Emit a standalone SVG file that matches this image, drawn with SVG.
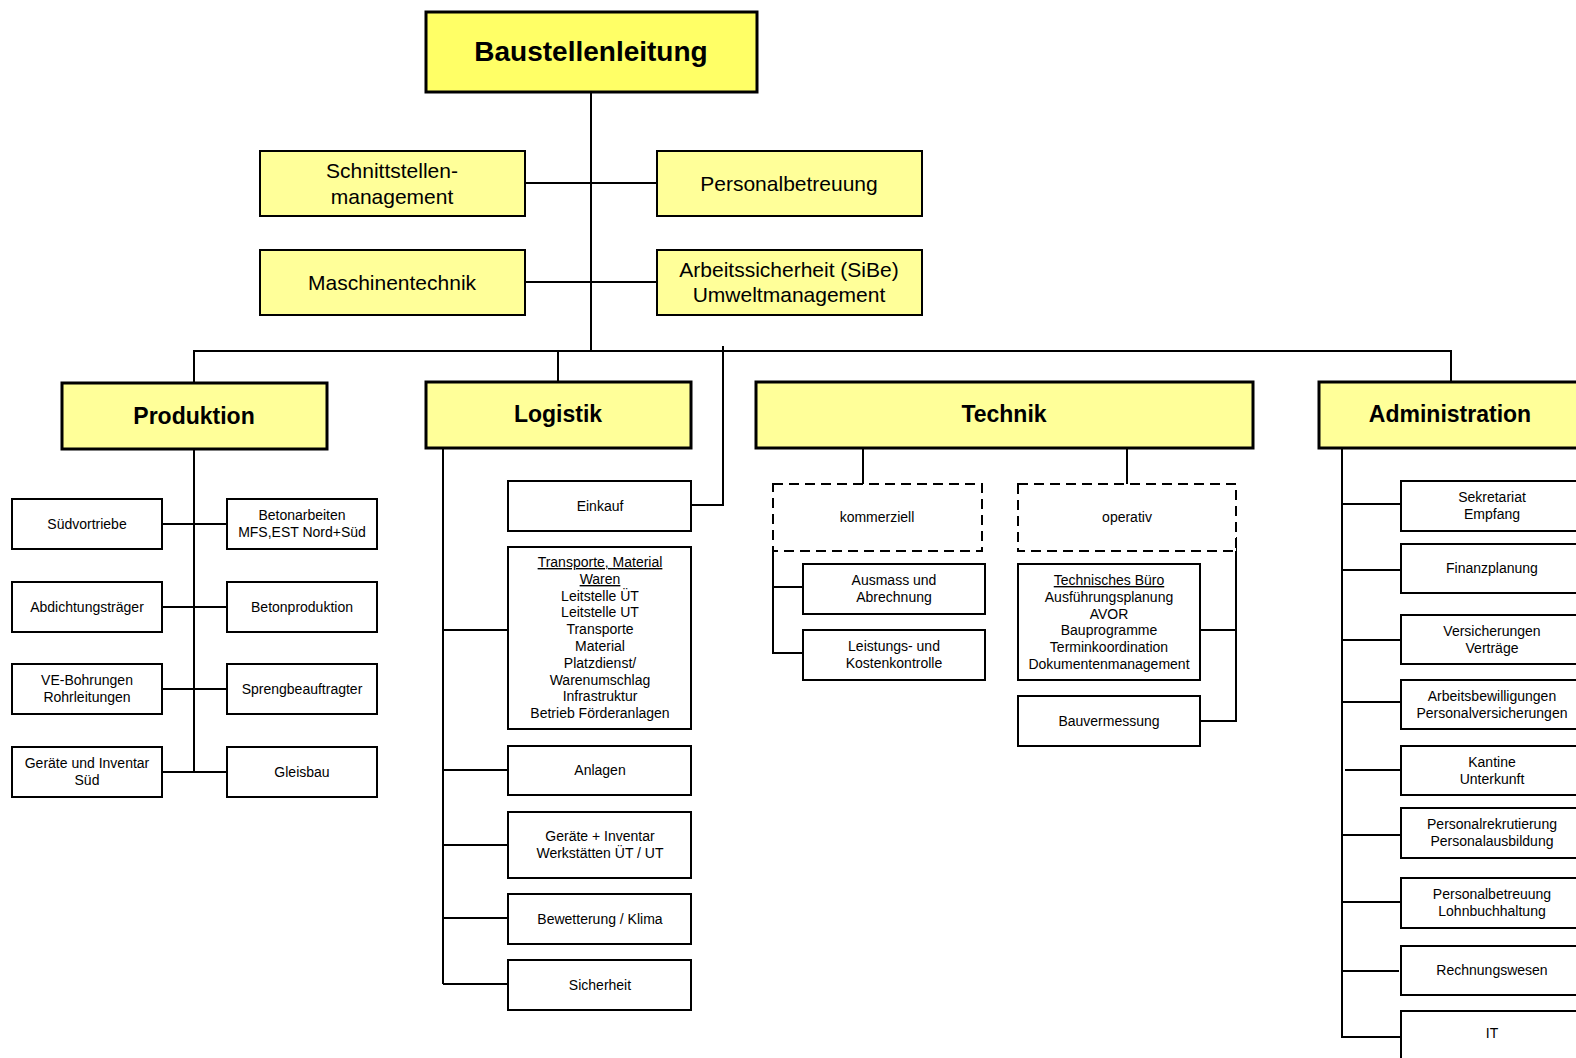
<svg xmlns="http://www.w3.org/2000/svg" width="1576" height="1058" viewBox="0 0 1576 1058">
<style>
text{font-family:"Liberation Sans",Arial,sans-serif;fill:#000;text-anchor:middle}
.t{font-size:14px}
.m{font-size:21px}
.h{font-size:23px;font-weight:bold}
.top{font-size:28px;font-weight:bold}
.major{fill:#FFFF99;stroke:#000;stroke-width:3}
.root{fill:#FFFF66;stroke:#000;stroke-width:3}
.sec{fill:#FFFF99;stroke:#000;stroke-width:2}
.box{fill:#fff;stroke:#000;stroke-width:2}
.dash{fill:#fff;stroke:#000;stroke-width:2;stroke-dasharray:10 6}
.ln{fill:none;stroke:#000;stroke-width:2}
</style>
<rect width="1576" height="1058" fill="#fff"/>
<g id="connectors" class="ln">
<path d="M591,92V351"/>
<path d="M525,183H657M525,282H657"/>
<path d="M194,383V351H1451V382"/>
<path d="M558,351V382"/>
<path d="M723,346V505H691"/>
<path d="M194,449V772M162,524H227M162,607H227M162,689H227M162,772H227"/>
<path d="M443,448V984M443,630H508M443,770H508M443,845H508M443,918H508M443,984H508"/>
<path d="M863,449V484M1127,449V484"/>
<path d="M773,549V653H803M773,587H803"/>
<path d="M1236,537V721H1200M1236,630H1200"/>
<path d="M1342,448V1037H1401M1342,504H1401M1342,570H1401M1342,640H1401M1342,702H1401M1345,770H1401M1342,835H1401M1342,902H1401M1342,971H1399"/>
</g>
<g id="n-baustellenleitung"><rect class="root" x="426" y="12" width="331" height="80"/><text class="top" x="591" y="61">Baustellenleitung</text></g>
<g id="n-schnittstellen"><rect class="sec" x="260" y="151" width="265" height="65"/><text class="m" x="392" y="177.5">Schnittstellen-</text><text class="m" x="392" y="203.5">management</text></g>
<g id="n-personalbetreuung-top"><rect class="sec" x="657" y="151" width="265" height="65"/><text class="m" x="789" y="190.5">Personalbetreuung</text></g>
<g id="n-maschinentechnik"><rect class="sec" x="260" y="250" width="265" height="65"/><text class="m" x="392" y="289.5">Maschinentechnik</text></g>
<g id="n-arbeitssicherheit"><rect class="sec" x="657" y="250" width="265" height="65"/><text class="m" x="789" y="276.5">Arbeitssicherheit (SiBe)</text><text class="m" x="789" y="301.5">Umweltmanagement</text></g>
<g id="n-produktion"><rect class="major" x="62" y="383" width="265" height="66"/><text class="h" x="194" y="424">Produktion</text></g>
<g id="n-logistik"><rect class="major" x="426" y="382" width="265" height="66"/><text class="h" x="558" y="422">Logistik</text></g>
<g id="n-technik"><rect class="major" x="756" y="382" width="497" height="66"/><text class="h" x="1004" y="422">Technik</text></g>
<g id="n-administration"><rect class="major" x="1319" y="382" width="270" height="66"/><text class="h" x="1450" y="422">Administration</text></g>
<g id="n-suedvortriebe"><rect class="box" x="12" y="499" width="150" height="50"/><text class="t" x="87" y="529">Südvortriebe</text></g>
<g id="n-betonarbeiten"><rect class="box" x="227" y="499" width="150" height="50"/><text class="t" x="302" y="520">Betonarbeiten</text><text class="t" x="302" y="537">MFS,EST Nord+Süd</text></g>
<g id="n-abdichtung"><rect class="box" x="12" y="582" width="150" height="50"/><text class="t" x="87" y="612">Abdichtungsträger</text></g>
<g id="n-betonproduktion"><rect class="box" x="227" y="582" width="150" height="50"/><text class="t" x="302" y="612">Betonproduktion</text></g>
<g id="n-ve-bohrungen"><rect class="box" x="12" y="664" width="150" height="50"/><text class="t" x="87" y="685">VE-Bohrungen</text><text class="t" x="87" y="702">Rohrleitungen</text></g>
<g id="n-spreng"><rect class="box" x="227" y="664" width="150" height="50"/><text class="t" x="302" y="694">Sprengbeauftragter</text></g>
<g id="n-geraete-sued"><rect class="box" x="12" y="747" width="150" height="50"/><text class="t" x="87" y="768">Geräte und Inventar</text><text class="t" x="87" y="785">Süd</text></g>
<g id="n-gleisbau"><rect class="box" x="227" y="747" width="150" height="50"/><text class="t" x="302" y="777">Gleisbau</text></g>
<g id="n-einkauf"><rect class="box" x="508" y="481" width="183" height="50"/><text class="t" x="600" y="511">Einkauf</text></g>
<g id="n-transporte"><rect class="box" x="508" y="547" width="183" height="182"/>
<text class="t" x="600" y="567"><tspan text-decoration="underline">Transporte, Material</tspan></text>
<text class="t" x="600" y="584"><tspan text-decoration="underline">Waren</tspan></text>
<text class="t" x="600" y="601">Leitstelle ÜT</text>
<text class="t" x="600" y="617">Leitstelle UT</text>
<text class="t" x="600" y="634">Transporte</text>
<text class="t" x="600" y="651">Material</text>
<text class="t" x="600" y="668">Platzdienst/</text>
<text class="t" x="600" y="685">Warenumschlag</text>
<text class="t" x="600" y="701">Infrastruktur</text>
<text class="t" x="600" y="718">Betrieb Förderanlagen</text></g>
<g id="n-anlagen"><rect class="box" x="508" y="746" width="183" height="49"/><text class="t" x="600" y="775">Anlagen</text></g>
<g id="n-geraete-inventar"><rect class="box" x="508" y="812" width="183" height="66"/><text class="t" x="600" y="841">Geräte + Inventar</text><text class="t" x="600" y="858">Werkstätten ÜT / UT</text></g>
<g id="n-bewetterung"><rect class="box" x="508" y="894" width="183" height="50"/><text class="t" x="600" y="924">Bewetterung / Klima</text></g>
<g id="n-sicherheit"><rect class="box" x="508" y="960" width="183" height="50"/><text class="t" x="600" y="990">Sicherheit</text></g>
<g id="n-kommerziell"><rect class="dash" x="773" y="484" width="209" height="67"/><text class="t" x="877" y="522">kommerziell</text></g>
<g id="n-operativ"><rect class="dash" x="1018" y="484" width="218" height="67"/><text class="t" x="1127" y="522">operativ</text></g>
<g id="n-ausmass"><rect class="box" x="803" y="564" width="182" height="50"/><text class="t" x="894" y="585">Ausmass und</text><text class="t" x="894" y="602">Abrechnung</text></g>
<g id="n-leistungs"><rect class="box" x="803" y="630" width="182" height="50"/><text class="t" x="894" y="651">Leistungs- und</text><text class="t" x="894" y="668">Kostenkontrolle</text></g>
<g id="n-technisches-buero"><rect class="box" x="1018" y="564" width="182" height="116"/>
<text class="t" x="1109" y="585"><tspan text-decoration="underline">Technisches Büro</tspan></text>
<text class="t" x="1109" y="602">Ausführungsplanung</text>
<text class="t" x="1109" y="619">AVOR</text>
<text class="t" x="1109" y="635">Bauprogramme</text>
<text class="t" x="1109" y="652">Terminkoordination</text>
<text class="t" x="1109" y="669">Dokumentenmanagement</text></g>
<g id="n-bauvermessung"><rect class="box" x="1018" y="696" width="182" height="50"/><text class="t" x="1109" y="726">Bauvermessung</text></g>
<g id="n-sekretariat"><rect class="box" x="1401" y="481" width="182" height="50"/><text class="t" x="1492" y="502">Sekretariat</text><text class="t" x="1492" y="519">Empfang</text></g>
<g id="n-finanzplanung"><rect class="box" x="1401" y="544" width="182" height="49"/><text class="t" x="1492" y="573">Finanzplanung</text></g>
<g id="n-versicherungen"><rect class="box" x="1401" y="615" width="182" height="49"/><text class="t" x="1492" y="636">Versicherungen</text><text class="t" x="1492" y="653">Verträge</text></g>
<g id="n-arbeitsbewilligungen"><rect class="box" x="1401" y="680" width="182" height="49"/><text class="t" x="1492" y="701">Arbeitsbewilligungen</text><text class="t" x="1492" y="718">Personalversicherungen</text></g>
<g id="n-kantine"><rect class="box" x="1401" y="746" width="182" height="49"/><text class="t" x="1492" y="767">Kantine</text><text class="t" x="1492" y="784">Unterkunft</text></g>
<g id="n-personalrekrutierung"><rect class="box" x="1401" y="808" width="182" height="50"/><text class="t" x="1492" y="829">Personalrekrutierung</text><text class="t" x="1492" y="846">Personalausbildung</text></g>
<g id="n-personalbetreuung"><rect class="box" x="1401" y="878" width="182" height="50"/><text class="t" x="1492" y="899">Personalbetreuung</text><text class="t" x="1492" y="916">Lohnbuchhaltung</text></g>
<g id="n-rechnungswesen"><rect class="box" x="1401" y="946" width="182" height="49"/><text class="t" x="1492" y="975">Rechnungswesen</text></g>
<g id="n-it"><rect class="box" x="1401" y="1011" width="182" height="70"/><text class="t" x="1492" y="1038">IT</text></g>
</svg>
